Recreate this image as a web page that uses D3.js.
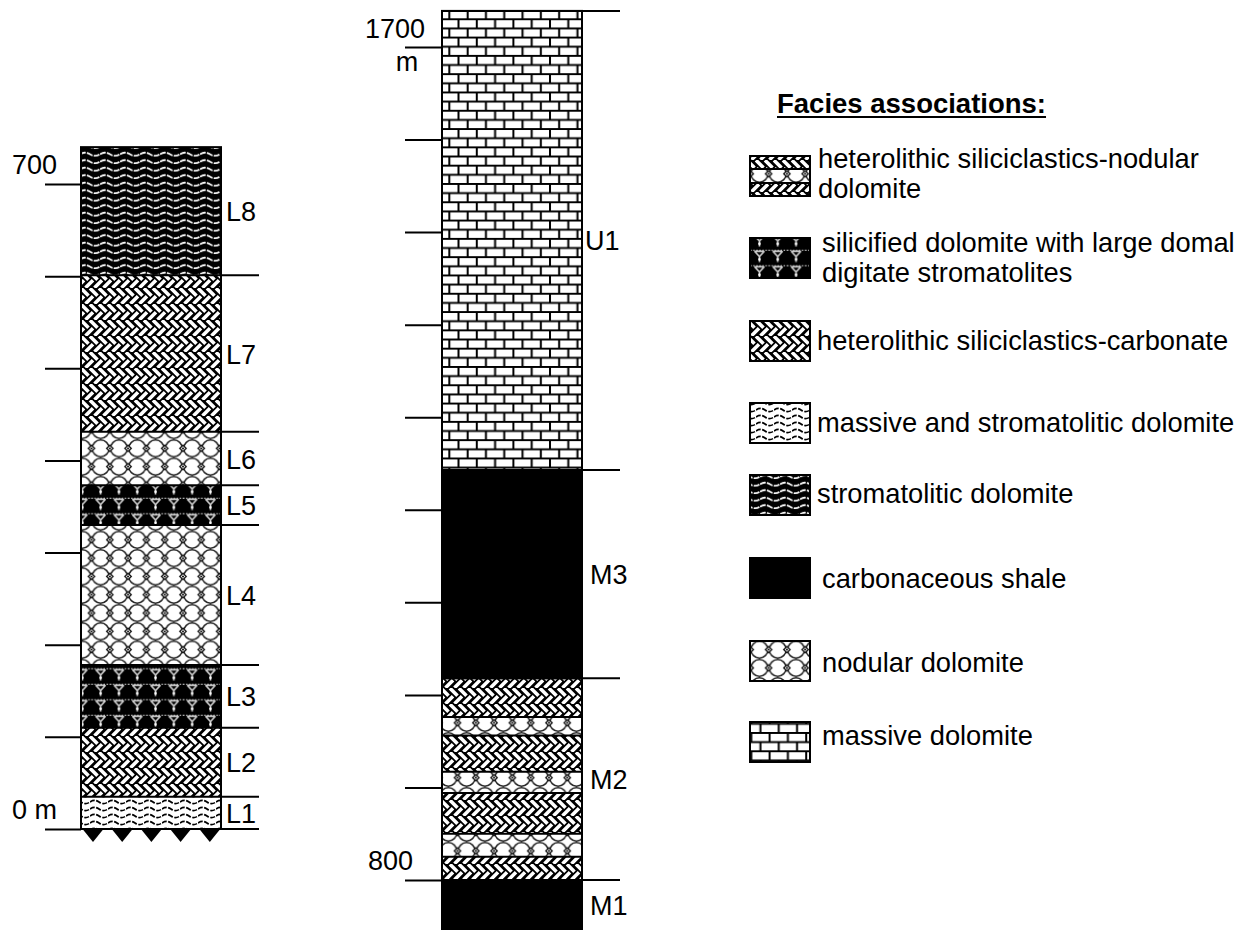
<!DOCTYPE html>
<html><head><meta charset="utf-8">
<script src="https://cdn.jsdelivr.net/npm/d3@7"></script>
<style>body{margin:0;background:#fff}svg{display:block}text{font-family:"Liberation Sans",Arial,sans-serif;fill:#000}</style>
</head><body><svg id="c" width="1245" height="930"></svg>
<script>
// ---------------- DATA ----------------
const leftUnits  = ["L1","L2","L3","L4","L5","L6","L7","L8"];
const leftBases  = [0, 35, 110, 178, 330, 373, 431, 601];
const leftTops   = [35, 110, 178, 330, 373, 431, 601, 740];
const leftFacies = ["msd","hsc","sdd","nod","sdd","nod","hsc","std"];
const leftTicks  = [0,100,200,300,400,500,600,700];
const leftTickLabels = {0:"0 m", 700:"700"};

const midUnits     = ["M1","M2","M3","U1"];
const midUnitBases = [745, 800, 1018, 1243];
const midUnitTops  = [800, 1018, 1243, 1739];
const midBedBases  = [745, 800, 825, 850, 894, 917, 956, 976, 1018, 1243];
const midBedTops   = [800, 825, 850, 894, 917, 956, 976, 1018, 1243, 1739];
const midBedFacies = ["shale","hsc","nod","hsc","nod","hsc","nod","hsc","shale","brick"];
const midTicks     = [800,900,1000,1100,1200,1300,1400,1500,1600,1700];
const midTickLabels = {800:"800", 1700:"1700"};

const legendTitle  = "Facies associations:";
const legendKeys   = ["hsnd","sdd","hsc","msd","std","shale","nod","brick"];
const legendLabels = [
  ["heterolithic siliciclastics-nodular","dolomite"],
  ["silicified dolomite with large domal","digitate stromatolites"],
  ["heterolithic siliciclastics-carbonate"],
  ["massive and stromatolitic dolomite"],
  ["stromatolitic dolomite"],
  ["carbonaceous shale"],
  ["nodular dolomite"],
  ["massive dolomite"]
];

// ---------------- DRAW ----------------
const svg = d3.select("#c");
const defs = svg.append("defs");
function pat(id,w,h,bg){
  const p = defs.append("pattern").attr("id",id).attr("patternUnits","userSpaceOnUse")
    .attr("width",w).attr("height",h);
  p.append("rect").attr("width",w).attr("height",h).attr("fill",bg);
  return p;
}
// massive dolomite (brick)
{ const w=36.6,h=18.3,p=pat("brick",w,h,"#fff");
  p.append("path").attr("d",`M0,1H${w}M0,${h/2+1}H${w}M1,0V${h/2}M${w/2+1},0V${h/2}M${w/4+1},${h/2}V${h}M${3*w/4+1},${h/2}V${h}`)
   .attr("stroke","#000").attr("stroke-width",2).attr("fill","none"); }
// massive and stromatolitic dolomite (black waves on white)
{ const p=pat("msd",18,7,"#fff");
  p.append("path").attr("d","M0,4 Q4.5,0.8 9,4 T18,4").attr("stroke","#000").attr("stroke-width",1.6)
   .attr("fill","none").attr("stroke-dasharray","5 1.5"); }
// stromatolitic dolomite (white waves on black)
{ const p=pat("std",20,7.5,"#000");
  p.append("path").attr("d","M0,4.2 Q5,1 10,4.2 T20,4.2").attr("stroke","#fff").attr("stroke-width",1.7)
   .attr("fill","none").attr("stroke-dasharray","6 1.2"); }
// silicified dolomite with domal digitate stromatolites
{ const w=18.3,h=15.5,p=pat("sdd",w,h,"#000");
  p.append("path").attr("d",`M0,2.2H${w}`).attr("stroke","#bbb").attr("stroke-width",1.2).attr("stroke-dasharray","1.5 1.5");
  p.append("path").attr("d",`M4.2,3.2 L9.15,8.5 L14.1,3.2 M9.15,8.5 V14 M5,3.2 H13.3`)
   .attr("stroke","#d0d0d0").attr("stroke-width",1.6).attr("fill","none");
  p.append("circle").attr("cx",9.15).attr("cy",11.3).attr("r",1.3).attr("fill","#fff"); }
// nodular dolomite
{ const w=18.3,h=18.3,p=pat("nod",w,h,"#fff");
  p.append("circle").attr("cx",w/2).attr("cy",h/2).attr("r",8.4).attr("fill","none")
   .attr("stroke","#222").attr("stroke-width",1.5);
  [[0,h/2],[w,h/2]].forEach(([x,y])=>{
    p.append("path").attr("d",`M${x-3.2},${y}L${x},${y-3.2}L${x+3.2},${y}L${x},${y+3.2}Z`).attr("fill","#fff").attr("stroke","#111").attr("stroke-width",1.3);
    p.append("circle").attr("cx",x).attr("cy",y).attr("r",1).attr("fill","#000");
  }); }
// heterolithic siliciclastics-carbonate (herringbone)
{ const w=18,h=16,p=pat("hsc",w,h,"#000");
  let d="";
  [-18,-9,0,9,18].forEach(x=>{
    d+=`M${x},0.3L${x+7.5},7.7`;
    d+=`M${x+4.5},15.7L${x+12},8.3`;
  });
  p.append("path").attr("d",d).attr("stroke","#fff").attr("stroke-width",3.6).attr("fill","none"); }
const fillOf = f => f==="shale" ? "#000" : `url(#${f})`;

// scales
const leftX0=81, leftX1=221, midX0=442, midX1=582;
const leftY = d3.scaleLinear().domain([0,700]).range([829,184]);
const midY  = d3.scaleLinear().domain([800,1700]).range([880,47]);
const FS = 27;

// ---- left column ----
const gL = svg.append("g");
gL.selectAll("rect.bed").data(leftUnits).join("rect").attr("class","bed")
  .attr("x",leftX0).attr("width",leftX1-leftX0)
  .attr("y",(d,i)=>leftY(leftTops[i])).attr("height",(d,i)=>leftY(leftBases[i])-leftY(leftTops[i]))
  .attr("fill",(d,i)=>fillOf(leftFacies[i]));
gL.selectAll("line.bnd").data(leftBases).join("line").attr("class","bnd")
  .attr("x1",leftX0).attr("x2",leftX1+38).attr("y1",d=>leftY(d)).attr("y2",d=>leftY(d))
  .attr("stroke","#000").attr("stroke-width",2);
gL.append("rect").attr("x",leftX0).attr("y",leftY(740)).attr("width",leftX1-leftX0)
  .attr("height",leftY(0)-leftY(740)).attr("fill","none").attr("stroke","#000").attr("stroke-width",2);
const axL = d3.axisLeft(leftY).tickValues(leftTicks).tickSize(36).tickFormat("");
const gAxL = svg.append("g").attr("transform",`translate(${leftX0},0)`).call(axL);
gAxL.select(".domain").remove();
gAxL.selectAll(".tick line").attr("stroke","#000").attr("stroke-width",2);
Object.entries(leftTickLabels).forEach(([v,t])=>{
  svg.append("text").attr("x",57).attr("y",leftY(+v)-10).attr("text-anchor","end")
    .attr("font-size",FS).text(t);
});
gL.selectAll("text.u").data(leftUnits).join("text").attr("class","u")
  .attr("x",leftX1+5).attr("y",(d,i)=>(leftY(leftTops[i])+leftY(leftBases[i]))/2+10)
  .attr("font-size",FS).text(d=>d);
gL.selectAll("path.tri").data(d3.range(5)).join("path").attr("class","tri")
  .attr("d",i=>{const cx=leftX0+12+i*29.2, y=leftY(0); return `M${cx-10.5},${y}L${cx+10.5},${y}L${cx},${y+13}Z`;})
  .attr("fill","#000");

// ---- middle column ----
const gM = svg.append("g");
gM.selectAll("rect.bed").data(midBedFacies).join("rect").attr("class","bed")
  .attr("x",midX0).attr("width",midX1-midX0)
  .attr("y",(d,i)=>midY(midBedTops[i])).attr("height",(d,i)=>midY(midBedBases[i])-midY(midBedTops[i]))
  .attr("fill",d=>fillOf(d));
gM.selectAll("line.sub").data(midBedBases.slice(1)).join("line").attr("class","sub")
  .attr("x1",midX0).attr("x2",midX1).attr("y1",d=>midY(d)).attr("y2",d=>midY(d))
  .attr("stroke","#000").attr("stroke-width",2);
gM.selectAll("line.bnd").data(midUnitBases.slice(1).concat([midUnitTops[3]])).join("line").attr("class","bnd")
  .attr("x1",midX0).attr("x2",midX1+38).attr("y1",d=>midY(d)).attr("y2",d=>midY(d))
  .attr("stroke","#000").attr("stroke-width",2);
gM.append("rect").attr("x",midX0).attr("y",midY(1739)).attr("width",midX1-midX0)
  .attr("height",midY(745)-midY(1739)).attr("fill","none").attr("stroke","#000").attr("stroke-width",2);
const axM = d3.axisLeft(midY).tickValues(midTicks).tickSize(37).tickFormat("");
const gAxM = svg.append("g").attr("transform",`translate(${midX0},0)`).call(axM);
gAxM.select(".domain").remove();
gAxM.selectAll(".tick line").attr("stroke","#000").attr("stroke-width",2);
svg.append("text").attr("x",425).attr("y",midY(1700)-9).attr("text-anchor","end").attr("font-size",FS).text(midTickLabels[1700]);
svg.append("text").attr("x",407).attr("y",midY(1700)+24).attr("text-anchor","middle").attr("font-size",FS).text("m");
svg.append("text").attr("x",413).attr("y",midY(800)-10).attr("text-anchor","end").attr("font-size",FS).text(midTickLabels[800]);
gM.selectAll("text.u").data(midUnits).join("text").attr("class","u")
  .attr("x",(d,i)=>midX1+ (i===3?3:8))
  .attr("y",(d,i)=>{const a=Math.min(midY(midUnitBases[i]),930), b=midY(midUnitTops[i]); return (a+b)/2+10;})
  .attr("font-size",FS).text(d=>d);

// ---- legend ----
const gLeg = svg.append("g");
const tt = gLeg.append("text").attr("x",777).attr("y",113).attr("font-size",27.5).attr("font-weight","bold").text(legendTitle);
const tw = tt.node().getComputedTextLength();
gLeg.append("line").attr("x1",777).attr("x2",777+tw).attr("y1",117).attr("y2",117).attr("stroke","#000").attr("stroke-width",2);
const swY = [156,238,321,403,475,558,641,722];
const txX = [818,822,817,817,817,822,822,822];
const txY = [168,252,350,432,503,588,672,745];
legendKeys.forEach((k,i)=>{
  const g = gLeg.append("g");
  const x=750,y=swY[i],w=60,h=40;
  if(k==="hsnd"){
    g.append("rect").attr("x",x).attr("y",y).attr("width",w).attr("height",h).attr("fill","url(#hsc)");
    g.append("rect").attr("x",x).attr("y",y+13).attr("width",w).attr("height",14).attr("fill","url(#nod)");
    g.append("path").attr("d",`M${x},${y+13}H${x+w}M${x},${y+27}H${x+w}`).attr("stroke","#000").attr("stroke-width",2);
  } else {
    g.append("rect").attr("x",x).attr("y",y).attr("width",w).attr("height",h).attr("fill",fillOf(k));
  }
  g.append("rect").attr("x",x).attr("y",y).attr("width",w).attr("height",h).attr("fill","none").attr("stroke","#000").attr("stroke-width",2);
  legendLabels[i].forEach((t,j)=>{
    g.append("text").attr("x",txX[i]).attr("y",txY[i]+j*30).attr("font-size",27.3).text(t);
  });
});
</script></body></html>
